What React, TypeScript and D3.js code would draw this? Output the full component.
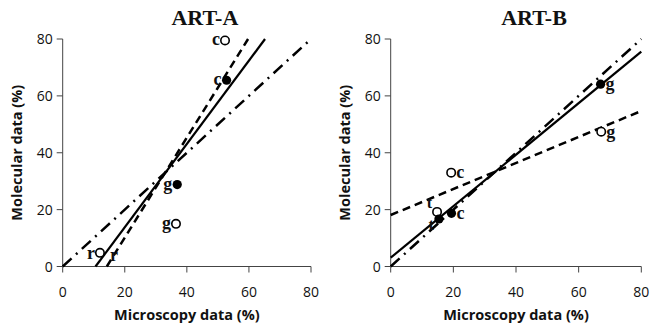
import React from "react";
import * as d3 from "d3";

const panelTitles = ["ART-A", "ART-B"];
const axisTicks = [0, 20, 40, 60, 80];
const xTitle = "Microscopy data (%)";
const yTitle = "Molecular data (%)";

// ART-A points
const artALabels = ["c", "c", "g", "g", "r"];
const artAX = [52.3, 52.8, 36.9, 36.5, 12.0];
const artAY = [79.5, 65.5, 28.8, 15.0, 4.8];
const artAFilled = [false, true, true, false, false];
// ART-A fitted lines: [slope, intercept]
const artASolid = [1.465, -15.5];
const artADashed = [1.758, -25.0];
const artADashDot = [1.0, 0.0];

// ART-B points
const artBLabels = ["g", "g", "c", "c", "t", "t"];
const artBX = [67.0, 67.2, 19.3, 19.4, 14.8, 15.4];
const artBY = [64.1, 47.4, 33.0, 18.7, 19.2, 16.7];
const artBFilled = [true, false, false, true, false, true];
const artBSolid = [0.906, 3.1];
const artBDashed = [0.4575, 18.1];
const artBDashDot = [1.0, 0.0];

type Pt = { label: string; x: number; y: number; filled: boolean };

function zipPts(l: string[], x: number[], y: number[], f: boolean[]): Pt[] {
  return l.map((label, i) => ({ label, x: x[i], y: y[i], filled: f[i] }));
}

function clipLine(slope: number, intercept: number, lo: number, hi: number) {
  let x0 = lo, x1 = hi;
  const xAtY = (y: number) => (y - intercept) / slope;
  if (slope * x0 + intercept < lo) x0 = xAtY(lo);
  if (slope * x0 + intercept > hi) x0 = xAtY(hi);
  if (slope * x1 + intercept > hi) x1 = xAtY(hi);
  if (slope * x1 + intercept < lo) x1 = xAtY(lo);
  return [
    [x0, slope * x0 + intercept],
    [x1, slope * x1 + intercept],
  ] as [number, number][];
}

const serif = "'Liberation Serif', 'Times New Roman', serif";
const sans = "'Open Sans', 'Noto Sans', sans-serif";

type LabelPos = { dx: number; dy: number; anchor: string };

function Panel(props: {
  title: string;
  x0: number;
  x1: number;
  pts: Pt[];
  solid: number[];
  dashed: number[];
  dashdot: number[];
  labelPos: LabelPos[];
  extra?: { text: string; x: number; y: number; dx: number; dy: number }[];
}) {
  const { title, x0, x1, pts, solid, dashed, dashdot, labelPos } = props;
  const xs = d3.scaleLinear().domain([0, 80]).range([x0, x1]);
  const ys = d3.scaleLinear().domain([0, 80]).range([266.5, 39]);
  const line = d3
    .line<[number, number]>()
    .x((d) => xs(d[0]))
    .y((d) => ys(d[1]));
  const cx = (x0 + x1) / 2;
  const axisColor = "#444";
  return (
    <g>
      <text
        x={cx + 18}
        y={25}
        textAnchor="middle"
        fontFamily={serif}
        fontWeight="bold"
        fontSize={22}
        fill="#111"
      >
        {title}
      </text>
      <line x1={x0} x2={x0} y1={ys(0)} y2={ys(80)} stroke={axisColor} strokeWidth={1} />
      <line x1={x0} x2={x1} y1={ys(0)} y2={ys(0)} stroke={axisColor} strokeWidth={1} />
      {axisTicks.map((t) => (
        <g key={"y" + t}>
          <line x1={x0 - 6} x2={x0} y1={ys(t)} y2={ys(t)} stroke={axisColor} strokeWidth={1} />
          <text
            x={x0 - 10}
            y={ys(t) + 5}
            textAnchor="end"
            fontFamily={sans}
            fontSize={14}
            fill="#111"
          >
            {t}
          </text>
        </g>
      ))}
      {axisTicks.map((t) => (
        <g key={"x" + t}>
          <line x1={xs(t)} x2={xs(t)} y1={ys(0)} y2={ys(0) + 6} stroke={axisColor} strokeWidth={1} />
          <text
            x={xs(t)}
            y={297}
            textAnchor="middle"
            fontFamily={sans}
            fontSize={14}
            fill="#111"
          >
            {t}
          </text>
        </g>
      ))}
      <text
        x={xs(40)}
        y={320}
        textAnchor="middle"
        fontFamily={sans}
        fontWeight="bold"
        fontSize={14.5}
        fill="#111"
      >
        {xTitle}
      </text>
      <text
        transform={`translate(${x0 - 41},${ys(40)}) rotate(-90)`}
        textAnchor="middle"
        fontFamily={sans}
        fontWeight="bold"
        fontSize={14.5}
        fill="#111"
      >
        {yTitle}
      </text>
      <path
        d={line(clipLine(dashdot[0], dashdot[1], 0, 80)) || ""}
        fill="none"
        stroke="#000"
        strokeWidth={2.5}
        strokeDasharray="12 6 2 6"
      />
      <path
        d={line(clipLine(dashed[0], dashed[1], 0, 80)) || ""}
        fill="none"
        stroke="#000"
        strokeWidth={2.5}
        strokeDasharray="8 5"
      />
      <path
        d={line(clipLine(solid[0], solid[1], 0, 80)) || ""}
        fill="none"
        stroke="#000"
        strokeWidth={2.2}
      />
      {pts.map((p, i) => (
        <g key={"p" + i}>
          <circle
            cx={xs(p.x)}
            cy={ys(p.y)}
            r={p.filled ? 4.6 : 4.2}
            fill={p.filled ? "#000" : "#fff"}
            stroke="#000"
            strokeWidth={p.filled ? 0 : 1.6}
          />
          <text
            x={xs(p.x) + labelPos[i].dx}
            y={ys(p.y) + labelPos[i].dy}
            textAnchor={labelPos[i].anchor}
            fontFamily={serif}
            fontWeight="bold"
            fontSize={labelPos[i].size || 18}
            fill="#111"
          >
            {p.label}
          </text>
        </g>
      ))}
      {(props.extra || []).map((e, i) => (
        <text
          key={"e" + i}
          x={xs(e.x) + e.dx}
          y={ys(e.y) + e.dy}
          textAnchor="start"
          fontFamily={serif}
          fontWeight="bold"
          fontSize={18}
          fill="#111"
        >
          {e.text}
        </text>
      ))}
    </g>
  );
}

type LP = LabelPos & { size?: number };

export default function App() {
  const ptsA = zipPts(artALabels, artAX, artAY, artAFilled);
  const ptsB = zipPts(artBLabels, artBX, artBY, artBFilled);
  const L = (dy: number, size?: number): LP => ({ dx: -5, dy, anchor: "end", size });
  const R = (dy: number): LP => ({ dx: 5, dy, anchor: "start" });
  const posA = [L(5), L(5), L(5), L(5), L(6)];
  const posB = [R(6), R(6), R(5), R(6), L(-4, 16), L(11, 16)];
  return (
    <svg
      width={651}
      height={329}
      style={{ position: "absolute", left: 0, top: 0, background: "#fff" }}
    >
      <rect width={651} height={329} fill="#fff" />
      <Panel
        title={panelTitles[0]}
        x0={62.7}
        x1={311}
        pts={ptsA}
        solid={artASolid}
        dashed={artADashed}
        dashdot={artADashDot}
        labelPos={posA}
        extra={[{ text: "r", x: artAX[4], y: artAY[4], dx: 10, dy: 8 }]}
      />
      <Panel
        title={panelTitles[1]}
        x0={390.7}
        x1={641.3}
        pts={ptsB}
        solid={artBSolid}
        dashed={artBDashed}
        dashdot={artBDashDot}
        labelPos={posB}
      />
    </svg>
  );
}
